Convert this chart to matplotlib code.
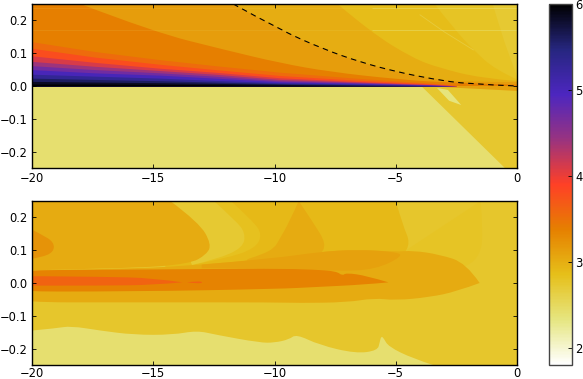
import matplotlib
matplotlib.use("Agg")
import matplotlib.pyplot as plt
from matplotlib.cm import ScalarMappable
from matplotlib.colors import Normalize
from matplotlib.patches import PathPatch
from matplotlib.path import Path

# Colour scale
vmin = 1.8
vmax = 6.0
cbar_ticks = [2, 3, 4, 5, 6]
x_ticks = [-20, -15, -10, -5, 0]
y_ticks = [-0.2, -0.1, 0.0, 0.1, 0.2]

# =========================
# Top panel, curves
# =========================
top_right_level = 2.72
top_lower_level = 2.42

d_x = [-1.0, -0.6, -0.2, 0]
d_y = [0.25, 0.15, 0.07, 0.03]
d_level = 2.79
c_x = [-3.4, -2.6, -1.8, -0.9, 0]
c_y = [0.25, 0.175, 0.11, 0.05, 0.02]
c_level = 2.88
b_x = [-7.4, -6.05, -4.3, -3.2, -1.5, 0]
b_y = [0.25, 0.165, 0.085, 0.055, 0.024, 0.015]
b_level = 3.0
dash_x = [-11.7, -9.77, -8.0, -6.47, -4.95, -3.46, -2.06, 0]
dash_y = [0.25, 0.171, 0.113, 0.073, 0.043, 0.021, 0.006, 0.0]
mid_y = [0.25, 0.171, 0.113, 0.073, 0.043, 0.021, 0.012, 0.012]
mid_level = 3.14
a_x = [-18, -15, -12.04, -9.77, -7.7, -5, -2.9, 0]
a_y = [0.25, 0.165, 0.11, 0.07, 0.043, 0.021, 0.01, 0.004]
a_level = 3.38

# Steep band just above zero
wedge_x = [-20, -17.4, -14.7, -12.45, -9.77, -6.68, -3.59, -2.5]
wedge_levels = [3.55, 3.8, 4.1, 4.4, 4.7, 5.0, 5.3, 5.6, 5.85, 6.0]
wedge_tops = [
    [0.135, 0.105, 0.080, 0.062, 0.042, 0.024, 0.009, 0.002],
    [0.115, 0.088, 0.066, 0.050, 0.032, 0.018, 0.007, 0.001],
    [0.092, 0.072, 0.054, 0.042, 0.025, 0.014, 0.005, 0.0008],
    [0.075, 0.060, 0.047, 0.036, 0.020, 0.012, 0.004, 0.0005],
    [0.062, 0.050, 0.040, 0.030, 0.016, 0.010, 0.003, 0.0],
    [0.050, 0.040, 0.033, 0.024, 0.013, 0.008, 0.0025, 0.0],
    [0.036, 0.030, 0.024, 0.017, 0.010, 0.006, 0.002, 0.0],
    [0.024, 0.020, 0.016, 0.012, 0.007, 0.004, 0.001, 0.0],
    [0.014, 0.012, 0.010, 0.008, 0.005, 0.002, 0.0, 0.0],
    [0.006, 0.006, 0.005, 0.004, 0.002, 0.0005, 0.0, 0.0],
]

low_right_x = [-3.95, -0.5, 0, 0]
low_right_y = [0.0, -0.25, -0.25, 0.0]
low_right_level = 2.74
tail_x = [-3.9, 0, 0]
tail_y = [0.0, -0.015, 0.0]
tail_level = 3.1
sliver_x = [-3.3, -2.85, -2.3, -2.8]
sliver_y = [-0.006, -0.012, -0.058, -0.045]
sliver_level = 2.35
streak_x = [-4.0, -3.0, -1.8]
streak_y = [0.217, 0.165, 0.11]
faint_lines_y = [0.171, 0.237]

# =========================
# Bottom panel, outlines
# =========================
bot_base_level = 2.76
pale_x = [-20, -19, -18.4, -17.2, -15.8, -14.2, -13.2, -12.4, -10.6, -10, -9.4, -9.1,
          -8.15, -6.65, -5.75, -5.66, -5.6, -5.5, -5.3, -4.3, -3.46]
pale_y = [-0.145, -0.138, -0.131, -0.145, -0.158, -0.158, -0.145, -0.158, -0.182, -0.182,
          -0.172, -0.156, -0.189, -0.215, -0.206, -0.180, -0.162, -0.168, -0.194, -0.23, -0.25]
pale_level = 2.42

outer_x = [-1.5, -1.4, -1.5, -2.3, -3.5, -6.0]
outer_y = [0.25, 0.164, 0.082, 0.04, 0.03, 0.03]
outer_level = 2.8

gold_x = [-5.0, -4.7, -4.4, -4.7, -5.85, -8.0]
gold_y = [0.25, 0.174, 0.123, 0.082, 0.041, 0.04]
gold_level = 2.9

mid_band_x = [-11.8, -10.9, -10.5, -10.8, -12.0, -13.4]
mid_band_y = [0.25, 0.19, 0.148, 0.105, 0.075, 0.055]
mid_band_level = 2.82

stripe_x = [-12.5, -11.6, -11.2, -11.3, -12.4, -13.4]
stripe_y = [0.25, 0.19, 0.153, 0.107, 0.072, 0.055]
stripe_level = 2.72

left_x = [-14.3, -13.1, -12.6, -12.8, -13.5, -16, -22]
left_y = [0.25, 0.184, 0.118, 0.087, 0.058, 0.044, 0.036]
left_level = 3.02

peak_x = [-9.0, -9.4, -9.8, -10.0, -10.5, -11.5, -9.0, -8.15, -7.85, -8.4, -9.0]
peak_y = [0.25, 0.184, 0.133, 0.107, 0.087, 0.064, 0.056, 0.082, 0.118, 0.184, 0.25]
peak_level = 3.02

# Left ends run past the frame so the curve stays square at x = -20
band_x = [-1.54, -2.1, -3.2, -4.3, -5, -6.6, -8.15, -9.4, -10, -13, -15.8, -22,
          -22, -15, -10, -9, -7, -5.9, -5, -3.6, -2.5, -1.54]
band_y = [0.0, 0.061, 0.087, 0.099, 0.095, 0.102, 0.095, 0.082, 0.075, 0.056, 0.043, 0.038,
          -0.059, -0.059, -0.059, -0.061, -0.059, -0.046, -0.053, -0.043, -0.026, 0.0]
band_level = 3.02

lens_x = [-13, -10, -8.15, -6.6, -5, -4.7, -5.85, -7.4, -10, -13]
lens_y = [0.056, 0.075, 0.095, 0.102, 0.095, 0.082, 0.041, 0.036, 0.044, 0.045]
lens_level = 3.1

blob_x = [-20.4, -19.6, -19.1, -19.1, -19.6, -20.4]
blob_y = [0.178, 0.148, 0.125, 0.095, 0.078, 0.068]
blob_level = 3.22

core_x = [-5.3, -6.2, -7.05, -7.2, -7.45, -8.4, -10, -15.8, -22, -22, -15.8, -9.8, -8.25, -6.3, -5.3]
core_y = [0.002, 0.022, 0.031, 0.022, 0.036, 0.041, 0.044, 0.041, 0.038, -0.026, -0.026, -0.018,
          -0.012, -0.005, 0.002]
core_level = 3.35

hot_x = [-13.8, -15, -17, -22, -22, -17, -15, -13.8]
hot_y = [0.002, 0.015, 0.019, 0.022, -0.008, -0.008, -0.006, 0.002]
hot2_x = [-13.6, -13.2, -12.9, -13.2, -13.6]
hot2_y = [0.002, 0.006, 0.002, -0.002, 0.002]
hot_level = 3.62

plt.rcParams["font.family"] = "DejaVu Sans"
plt.rcParams["font.size"] = 8.3

norm = Normalize(vmin=vmin, vmax=vmax)
cmap = plt.get_cmap("CMRmap_r")


def col(level):
    return cmap(norm(level))


def curve_path(x, y, corners=()):
    # Smooth curve through the read points, closed through any sharp corners
    pts = list(zip(x, y))
    verts = [pts[0]]
    codes = [Path.MOVETO]
    for i in range(1, len(pts) - 1):
        end = pts[i + 1]
        if i < len(pts) - 2:
            end = ((pts[i][0] + pts[i + 1][0]) / 2, (pts[i][1] + pts[i + 1][1]) / 2)
        verts += [pts[i], end]
        codes += [Path.CURVE3, Path.CURVE3]
    for corner in corners:
        verts.append(corner)
        codes.append(Path.LINETO)
    return Path(verts, codes)


def fill_curve(ax, x, y, level, corners=()):
    ax.add_patch(PathPatch(curve_path(x, y, corners), facecolor=col(level), edgecolor="none", lw=0))


def style_axes(ax):
    ax.set_xlim(-20, 0)
    ax.set_ylim(-0.25, 0.25)
    ax.set_xticks(x_ticks)
    ax.set_yticks(y_ticks)
    ax.tick_params(direction="in", top=True, right=True, length=3, width=0.6, pad=3)
    for spine in ax.spines.values():
        spine.set_linewidth(1.0)
        spine.set_zorder(20)


fig = plt.figure(figsize=(5.83, 3.79), dpi=100)
w = 583.0
h = 379.0
ax_top = fig.add_axes([32 / w, 1 - 168 / h, 485 / w, 164 / h])
ax_bot = fig.add_axes([32 / w, 1 - 365 / h, 485 / w, 164 / h])
cax = fig.add_axes([549 / w, 1 - 365 / h, 23 / w, 361 / h])

# =========================
# Top panel
# =========================
ax = ax_top
ax.fill_between([-20, 0], 0, 0.25, color=col(top_right_level), lw=0)
ax.fill_between([-20, 0], -0.25, 0, color=col(top_lower_level), lw=0)
fill_curve(ax, d_x, d_y, d_level, [(0, 0), (-20, 0), (-20, 0.25)])
fill_curve(ax, c_x, c_y, c_level, [(0, 0), (-20, 0), (-20, 0.25)])
fill_curve(ax, b_x, b_y, b_level, [(0, 0), (-20, 0), (-20, 0.25)])
fill_curve(ax, dash_x, mid_y, mid_level, [(0, 0), (-20, 0), (-20, 0.25)])
fill_curve(ax, a_x, a_y, a_level, [(0, 0), (-20, 0), (-20, 0.25)])
ax.fill(low_right_x, low_right_y, color=col(low_right_level), lw=0)
ax.fill(tail_x, tail_y, color=col(tail_level), lw=0)
ax.fill(sliver_x, sliver_y, color=col(sliver_level), lw=0)
for level, tops in zip(wedge_levels, wedge_tops):
    ax.fill_between(wedge_x, 0, tops, color=col(level), lw=0)
ax.plot(streak_x, streak_y, color=col(2.5), lw=0.6, alpha=0.5)
ax.hlines(faint_lines_y, -20, -6, color=col(2.4), lw=0.7, alpha=0.12)
ax.hlines(faint_lines_y, -6, 0, color=col(2.4), lw=0.7, alpha=0.5)
ax.add_patch(PathPatch(curve_path(dash_x, dash_y), fill=False, edgecolor="black", lw=0.8,
                       linestyle=(0, (5, 4))))
style_axes(ax)

# =========================
# Bottom panel
# =========================
ax = ax_bot
ax.fill_between([-20, 0], -0.25, 0.25, color=col(bot_base_level), lw=0)
fill_curve(ax, pale_x, pale_y, pale_level, [(-20, -0.25)])
fill_curve(ax, outer_x, outer_y, outer_level)
fill_curve(ax, gold_x, gold_y, gold_level, [(-14.5, 0.04), (-14.5, 0.25)])
fill_curve(ax, mid_band_x, mid_band_y, mid_band_level, [(-14.5, 0.25)])
fill_curve(ax, stripe_x, stripe_y, stripe_level, [(-14.5, 0.25)])
fill_curve(ax, left_x, left_y, left_level, [(-22, 0.25)])
fill_curve(ax, peak_x, peak_y, peak_level)
fill_curve(ax, band_x, band_y, band_level)
fill_curve(ax, lens_x, lens_y, lens_level)
fill_curve(ax, blob_x, blob_y, blob_level)
fill_curve(ax, core_x, core_y, core_level)
fill_curve(ax, hot_x, hot_y, hot_level)
fill_curve(ax, hot2_x, hot2_y, hot_level)
style_axes(ax)
# Bottom tick labels sit a little closer so they stay inside the figure
ax.tick_params(axis="x", pad=1.5)

# =========================
# Colour bar
# =========================
cb = fig.colorbar(ScalarMappable(norm=norm, cmap=cmap), cax=cax)
cb.set_ticks(cbar_ticks)
cb.ax.tick_params(direction="in", length=3, width=0.6, pad=2.5)
cb.outline.set_linewidth(1.0)
cb.outline.set_edgecolor("#444444")

plt.savefig("out.png", dpi=100)
plt.close()
